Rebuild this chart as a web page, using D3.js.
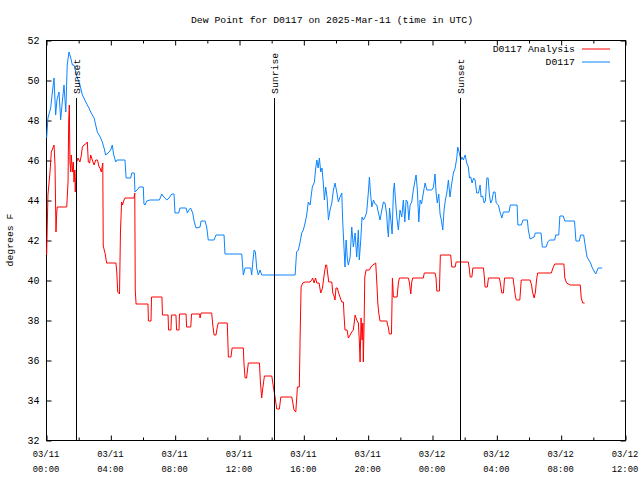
<!DOCTYPE html>
<html><head><meta charset="utf-8">
<script src="https://cdn.jsdelivr.net/npm/d3@7"></script>
<style>
body{margin:0;background:#fff;}
text{font-family:"Liberation Mono","DejaVu Sans Mono",monospace;fill:#000;}
</style></head>
<body><svg id="c" width="640" height="480"></svg>
<script>
const title = "Dew Point for D0117 on 2025-Mar-11 (time in UTC)";
const yLabel = "degrees F";
const seriesNames = ["D0117 Analysis", "D0117"];
const seriesColors = ["#ff0000", "#0a84ff"];
const yTicks = [32,34,36,38,40,42,44,46,48,50,52];
const xTickHours = [0,4,8,12,16,20,24,28,32,36];
const startUTC = Date.UTC(2025,2,11,0,0);
// [hours since 03/11 00:00 UTC, value]
const observed = [[0.04,47.1],[0.12,48.1],[0.29,48.6],[0.37,49.2],[0.50,50.1],[0.60,48.25],[0.68,49.0],[0.81,49.4],[0.91,48.0],[1.0,48.8],[1.12,49.75],[1.23,48.4],[1.32,50.75],[1.43,51.4],[1.54,51.1],[1.64,50.75],[1.74,50.75],[1.85,50.4],[1.95,50.1],[2.05,49.9],[2.16,49.6],[2.26,49.25],[2.36,49.1],[2.47,48.9],[2.57,48.75],[2.67,48.6],[2.78,48.4],[2.88,48.25],[2.99,48.1],[3.09,47.75],[3.19,47.4],[3.30,47.25],[3.40,47.1],[3.50,46.9],[3.61,46.6],[3.71,46.25],[3.79,46.3],[3.92,46.4],[4.02,46.5],[4.12,46.75],[4.20,46.3],[4.33,45.9],[4.42,46.0],[4.91,46.0],[4.98,45.1],[5.27,45.1],[5.33,45.35],[5.49,45.35],[5.53,44.4],[5.66,44.5],[5.80,44.65],[6.05,44.65],[6.09,43.8],[6.16,43.75],[6.26,43.95],[6.47,44.0],[7.05,44.0],[7.20,44.3],[7.28,44.2],[7.51,44.0],[7.65,44.1],[7.82,44.3],[7.96,44.3],[8.02,43.35],[8.25,43.35],[8.33,43.6],[8.71,43.6],[8.79,43.35],[8.89,43.5],[8.99,43.6],[9.12,43.35],[9.22,42.9],[9.33,42.6],[9.58,42.65],[9.64,42.95],[9.89,42.95],[9.99,42.65],[10.09,42.0],[10.45,42.0],[10.57,42.25],[11.07,42.25],[11.13,41.3],[12.17,41.3],[12.27,40.25],[12.38,40.6],[12.73,40.6],[12.79,40.25],[12.87,41.0],[12.94,41.5],[13.02,41.4],[13.10,40.6],[13.20,40.25],[13.31,40.5],[13.41,40.25],[15.49,40.25],[15.58,41.4],[15.69,41.5],[15.80,41.9],[15.90,42.35],[16.00,42.5],[16.11,42.85],[16.21,43.25],[16.31,43.9],[16.42,43.75],[16.48,44.15],[16.56,44.65],[16.69,44.9],[16.77,45.6],[16.84,46.0],[16.92,45.6],[17.00,46.1],[17.08,45.4],[17.16,45.6],[17.25,44.75],[17.31,44.0],[17.39,44.65],[17.48,44.1],[17.56,43.0],[17.66,43.5],[17.77,43.85],[17.87,44.5],[17.97,44.85],[18.08,44.4],[18.18,43.9],[18.28,44.15],[18.39,44.35],[18.45,42.9],[18.53,41.6],[18.59,40.65],[18.66,42.0],[18.74,41.0],[18.80,40.75],[18.91,41.15],[19.01,42.65],[19.11,41.65],[19.22,42.35],[19.32,41.15],[19.42,42.5],[19.48,41.0],[19.57,42.0],[19.65,43.15],[19.73,43.0],[19.84,43.15],[19.94,43.4],[20.04,44.35],[20.11,45.15],[20.17,44.4],[20.26,43.65],[20.36,44.0],[20.46,43.8],[20.57,43.75],[20.67,43.35],[20.77,43.0],[20.88,43.5],[20.98,43.9],[21.08,43.85],[21.18,43.3],[21.23,42.65],[21.29,42.15],[21.36,43.6],[21.44,43.0],[21.52,42.3],[21.60,44.4],[21.66,44.85],[21.72,44.1],[21.81,43.15],[21.91,42.5],[22.01,43.5],[22.12,43.15],[22.22,44.0],[22.31,42.9],[22.39,44.0],[22.48,43.9],[22.56,43.0],[22.64,43.75],[22.74,43.9],[22.84,44.5],[22.95,45.0],[23.01,45.25],[23.09,44.5],[23.18,42.9],[23.26,44.0],[23.35,43.8],[23.46,44.35],[23.57,44.85],[23.68,44.5],[23.99,44.5],[24.09,44.65],[24.19,45.3],[24.25,44.4],[24.33,43.85],[24.42,44.3],[24.50,43.3],[24.58,43.0],[24.67,42.5],[24.75,43.5],[24.83,44.0],[24.92,44.35],[25.02,45.0],[25.12,44.15],[25.23,44.85],[25.33,45.35],[25.44,45.6],[25.54,46.1],[25.60,46.65],[25.70,46.35],[25.79,46.0],[25.87,46.15],[25.95,46.0],[26.06,46.25],[26.16,45.85],[26.26,45.65],[26.33,45.1],[26.41,45.15],[26.49,44.85],[26.59,45.1],[26.68,45.0],[26.78,44.35],[26.89,44.35],[26.99,44.75],[27.05,44.15],[27.15,44.2],[27.24,43.85],[27.32,43.95],[27.41,45.1],[27.49,45.1],[27.57,44.25],[27.65,43.85],[27.74,44.0],[27.82,44.4],[27.92,44.4],[27.99,43.85],[28.13,43.75],[28.23,43.4],[28.34,43.1],[28.44,43.4],[28.79,43.4],[28.87,43.75],[29.29,43.75],[29.34,42.75],[29.55,42.75],[29.66,43.0],[29.93,43.0],[29.99,42.5],[30.10,42.05],[30.35,42.15],[30.42,42.35],[30.78,42.35],[30.86,41.65],[31.10,41.65],[31.20,41.9],[31.31,42.0],[31.63,42.0],[31.69,42.25],[31.88,42.25],[31.95,43.2],[32.16,43.2],[32.26,42.95],[32.86,42.95],[32.95,41.95],[33.16,41.95],[33.24,42.25],[33.43,42.25],[33.54,41.65],[33.64,41.15],[33.86,40.85],[33.97,40.6],[34.18,40.3],[34.33,40.6],[34.58,40.6]];
const analysis = [[0.04,41.25],[0.12,44.25],[0.25,45.4],[0.33,46.4],[0.50,46.75],[0.56,45.75],[0.62,42.4],[0.67,43.4],[0.70,43.65],[1.29,43.65],[1.37,44.9],[1.41,47.9],[1.45,48.75],[1.49,45.9],[1.54,45.4],[1.57,46.25],[1.65,45.4],[1.70,45.9],[1.74,44.9],[1.79,45.5],[1.82,44.4],[1.91,45.9],[1.99,46.1],[2.11,45.9],[2.20,46.25],[2.26,46.65],[2.36,46.75],[2.47,46.8],[2.57,46.9],[2.63,45.9],[2.71,45.85],[2.78,46.25],[2.88,46.0],[2.99,45.75],[3.09,46.0],[3.20,46.0],[3.30,45.65],[3.36,45.6],[3.44,45.4],[3.53,45.85],[3.56,41.7],[3.67,41.35],[3.77,40.85],[4.35,40.85],[4.40,40.4],[4.46,39.4],[4.57,39.3],[4.63,42.4],[4.70,43.9],[4.76,43.75],[4.85,44.0],[4.91,44.1],[5.47,44.1],[5.52,44.35],[5.55,39.5],[5.60,38.8],[6.34,38.8],[6.37,37.95],[6.53,37.95],[6.56,39.15],[7.21,39.15],[7.24,38.25],[7.59,38.25],[7.62,37.5],[7.77,37.5],[7.80,38.25],[8.08,38.25],[8.12,37.5],[8.27,37.5],[8.30,38.3],[8.71,38.3],[8.74,37.65],[9.0,37.65],[9.05,38.3],[9.55,38.3],[9.58,38.1],[9.64,38.35],[10.30,38.35],[10.37,37.75],[10.45,37.25],[10.57,37.25],[10.65,37.65],[10.71,37.85],[11.27,37.85],[11.34,36.15],[11.50,36.15],[11.57,36.6],[12.27,36.6],[12.31,35.8],[12.38,35.1],[12.47,35.1],[12.58,35.85],[13.27,35.85],[13.33,34.9],[13.41,34.1],[13.48,34.6],[13.58,35.2],[14.04,35.2],[14.14,34.65],[14.24,34.15],[14.35,33.55],[14.51,33.55],[14.60,34.15],[15.28,34.15],[15.34,33.9],[15.42,33.5],[15.53,33.4],[15.59,34.1],[15.63,34.65],[15.75,34.65],[15.80,37.15],[15.86,39.65],[15.96,39.85],[16.11,39.9],[16.42,39.9],[16.52,40.0],[16.58,40.1],[16.67,39.85],[16.76,40.1],[16.84,39.85],[16.98,39.85],[17.08,39.35],[17.19,39.6],[17.31,40.35],[17.39,40.75],[17.45,40.75],[17.51,40.35],[17.58,39.9],[17.77,39.9],[17.83,39.35],[17.91,39.2],[17.97,39.0],[18.03,39.6],[18.11,39.6],[18.18,39.4],[18.28,39.15],[18.39,38.9],[18.49,38.9],[18.53,38.25],[18.59,37.5],[18.72,37.5],[18.80,37.1],[18.91,37.25],[19.01,37.4],[19.11,37.5],[19.17,37.9],[19.22,38.25],[19.32,38.0],[19.42,37.85],[19.48,37.0],[19.53,35.9],[19.59,38.1],[19.65,37.0],[19.70,37.85],[19.73,35.9],[19.78,37.85],[19.82,40.15],[19.90,40.5],[20.11,40.5],[20.20,40.65],[20.32,40.75],[20.50,40.85],[20.57,39.85],[20.63,38.85],[20.69,38.35],[20.77,37.95],[21.19,37.95],[21.29,37.6],[21.35,37.3],[21.48,37.3],[21.54,40.1],[21.60,39.15],[21.83,39.15],[21.91,39.85],[21.97,40.1],[22.53,40.1],[22.59,39.9],[22.68,39.3],[22.74,39.9],[22.80,40.1],[23.46,40.1],[23.52,40.35],[24.19,40.35],[24.25,40.1],[24.30,39.45],[24.46,39.45],[24.52,41.25],[25.16,41.25],[25.23,40.65],[25.44,40.65],[25.50,40.9],[26.26,40.9],[26.33,40.5],[26.37,40.15],[26.48,40.15],[26.54,40.6],[27.20,40.6],[27.26,40.1],[27.30,39.65],[27.44,39.65],[27.51,40.1],[28.19,40.1],[28.25,39.85],[28.34,39.35],[28.44,39.35],[28.51,40.1],[29.04,40.1],[29.12,39.6],[29.19,39.15],[29.25,39.0],[29.46,39.0],[29.55,40.0],[30.10,40.0],[30.19,39.75],[30.25,39.4],[30.35,39.1],[30.43,39.4],[30.50,40.0],[30.57,40.35],[31.42,40.35],[31.52,40.6],[31.63,40.8],[32.20,40.8],[32.26,40.1],[32.37,39.85],[32.59,39.75],[33.22,39.75],[33.28,39.1],[33.37,38.85],[33.49,38.85]];
const sunEvents = [["Sunset","2025-03-11T01:53:00Z"],["Sunrise","2025-03-11T14:11:00Z"],["Sunset","2025-03-12T01:46:00Z"]];

const toDate = h => new Date(startUTC + h*3600000);
const svg = d3.select("#c");
const L=46,R=625,T=40,B=440;
const x = d3.scaleUtc().domain([toDate(0), toDate(36)]).range([L,R]);
const y = d3.scaleLinear().domain([32,52]).range([B,T]);

// frame
svg.append("rect").attr("x",L+0.5).attr("y",T+0.5).attr("width",R-L).attr("height",B-T)
  .attr("fill","none").attr("stroke","#000").attr("stroke-width",1);

// y ticks
const yAxL = d3.axisLeft(y).tickValues(yTicks).tickSize(-5).tickPadding(7).tickFormat(d3.format("d"));
const gL = svg.append("g").attr("transform",`translate(${L+0.5},0.5)`).call(yAxL);
const yAxR = d3.axisRight(y).tickValues(yTicks).tickSize(-5).tickFormat("");
svg.append("g").attr("transform",`translate(${R+0.5},0.5)`).call(yAxR);
// x ticks
const xTicks = xTickHours.map(toDate);
const xMinor = d3.range(0,37,2).filter(h=>h%4!==0).map(toDate);
const fmt1 = d3.utcFormat("%m/%d"), fmt2 = d3.utcFormat("%H:%M");
const xAxB = d3.axisBottom(x).tickValues(xTicks).tickSize(-5).tickFormat("");
svg.append("g").attr("transform",`translate(0.5,${B+0.5})`).call(xAxB);
svg.append("g").attr("transform",`translate(0.5,${B+0.5})`).call(d3.axisBottom(x).tickValues(xMinor).tickSize(-3).tickFormat(""));
svg.append("g").attr("transform",`translate(0.5,${T+0.5})`).call(d3.axisTop(x).tickValues(xTicks).tickSize(-5).tickFormat(""));
svg.append("g").attr("transform",`translate(0.5,${T+0.5})`).call(d3.axisTop(x).tickValues(xMinor).tickSize(-3).tickFormat(""));
svg.selectAll(".domain").remove();
svg.selectAll(".tick line").attr("stroke","#000");
gL.selectAll(".tick text").attr("font-size","10px").attr("font-family","Liberation Mono, monospace");

const xl = svg.append("g");
xTicks.forEach(d=>{
  const t = xl.append("text").attr("x",x(d)).attr("text-anchor","middle").attr("font-size","8.8px");
  t.append("tspan").attr("x",x(d)).attr("y",457).text(fmt1(d));
  t.append("tspan").attr("x",x(d)).attr("y",472).text(fmt2(d));
});

// series
const line = d3.line().x(d=>x(toDate(d[0]))).y(d=>y(d[1]));
svg.append("path").datum(observed).attr("d",line).attr("fill","none").attr("stroke",seriesColors[1]).attr("stroke-width",1);
svg.append("path").datum(analysis).attr("d",line).attr("fill","none").attr("stroke",seriesColors[0]).attr("stroke-width",1);

// sun events
sunEvents.forEach(([name,t])=>{
  const xv = Math.round(x(new Date(t)))+0.5;
  svg.append("line").attr("x1",xv).attr("x2",xv).attr("y1",98).attr("y2",B).attr("stroke","#000").attr("stroke-width",1);
  svg.append("text").attr("transform",`translate(${xv},94) rotate(-90)`).attr("dy","0.35em")
    .attr("text-anchor","start").attr("font-size","9.8px").text(name);
});

// title & labels
svg.append("text").attr("x",332).attr("y",23).attr("text-anchor","middle").attr("font-size","9.8px").text(title);
svg.append("text").attr("transform","translate(10,240) rotate(-90)").attr("dy","0.35em").attr("text-anchor","middle").attr("font-size","9.8px").text(yLabel);

// legend
seriesNames.forEach((n,i)=>{
  const yy = 49 + i*13;
  svg.append("text").attr("x",575).attr("y",yy).attr("dy","0.35em").attr("text-anchor","end").attr("font-size","9.8px").text(n);
  svg.append("line").attr("x1",582).attr("x2",610).attr("y1",yy).attr("y2",yy).attr("stroke",seriesColors[i]).attr("stroke-width",1);
});
</script></body></html>
